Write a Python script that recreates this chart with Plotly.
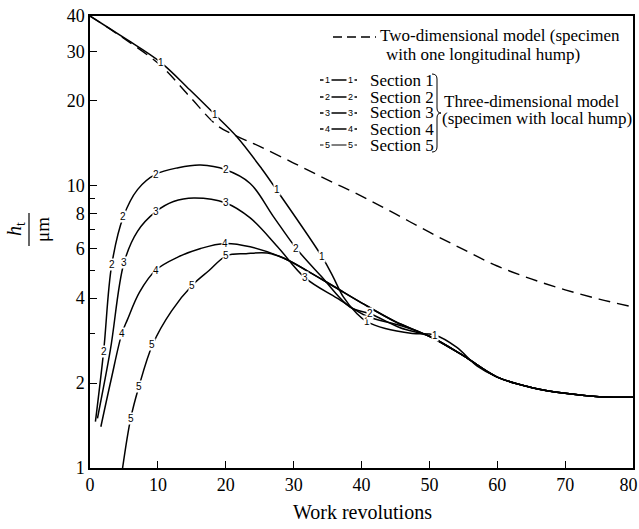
import numpy as np
import plotly.graph_objects as go

# Work revolutions (x) and h_t in micrometres (y) for each curve
x_2d = [0, 5, 10.5, 14.7, 18.7, 21.6, 25, 30, 35, 40, 45, 50, 55, 60, 65, 70, 75, 80]
y_2d = [40, 33.3, 26.6, 20.7, 16.4, 15.0, 13.8, 12.05, 10.5, 9.2, 7.95, 6.85, 5.95, 5.2, 4.68, 4.28, 3.97, 3.72]

x_s1 = [0, 5, 10.5, 14.7, 18.4, 21.6, 25.3, 27.5, 34.2, 35.8, 37.3, 39.3, 40.8, 43.5, 47.5, 50.8, 54, 57, 60, 65, 70, 75, 80]
y_s1 = [40, 33.5, 27.3, 21.9, 17.9, 14.96, 11.5, 9.67, 5.6, 4.77, 4.05, 3.53, 3.3, 3.12, 3.0, 2.96, 2.68, 2.3, 2.1, 1.93, 1.84, 1.79, 1.78]
lbl_s1 = [2, 4, 7, 8, 12, 15]

x_s2 = [0.8, 2.0, 3.2, 4.9, 7, 9.7, 13, 16.3, 20.0, 23.6, 27.0, 30.4, 34, 38.3, 41.3, 45.7, 50, 55, 60, 65, 70, 75, 80]
y_s2 = [1.46, 2.58, 5.25, 7.76, 9.7, 11.0, 11.6, 11.85, 11.4, 10.2, 7.8, 6.0, 4.8, 3.72, 3.52, 3.14, 2.93, 2.5, 2.1, 1.93, 1.84, 1.79, 1.78]
lbl_s2 = [1, 2, 3, 5, 8, 11, 14]

x_s3 = [1.1, 3.0, 5.0, 7, 9.7, 12.3, 15.3, 20.0, 23.6, 27.6, 31.7, 36.4, 40.8, 45.7, 50, 55, 60, 65, 70, 75, 80]
y_s3 = [1.5, 2.62, 5.33, 6.9, 8.1, 8.8, 9.06, 8.7, 7.7, 6.1, 4.72, 4.0, 3.45, 3.2, 2.93, 2.5, 2.1, 1.93, 1.84, 1.79, 1.78]
lbl_s3 = [2, 4, 7, 10]

x_s4 = [1.6, 3.1, 4.7, 5.5, 7.3, 9.7, 13, 16.3, 19.9, 23.6, 28.5, 32, 36, 40, 45, 50, 55, 60, 65, 70, 75, 80]
y_s4 = [1.4, 2.05, 3.0, 3.35, 4.2, 5.03, 5.6, 6.0, 6.25, 6.08, 5.55, 5.0, 4.39, 3.85, 3.3, 2.93, 2.5, 2.1, 1.93, 1.84, 1.79, 1.78]
lbl_s4 = [2, 5, 8]

x_s5 = [4.8, 6.0, 7.2, 9.2, 12, 15.1, 17.5, 20.1, 23, 26.1, 28.5, 32, 36, 40, 45, 50, 55, 60, 65, 70, 75, 80]
y_s5 = [1.0, 1.5, 1.94, 2.73, 3.6, 4.45, 5.0, 5.65, 5.75, 5.78, 5.55, 5.0, 4.39, 3.85, 3.3, 2.93, 2.5, 2.1, 1.93, 1.84, 1.79, 1.78]
lbl_s5 = [1, 2, 3, 5, 7]

x_ticks = [0, 10, 20, 30, 40, 50, 60, 70, 80]
# the last label is padded so it stays inside the page edge
x_ticktext = ["0", "10", "20", "30", "40", "50", "60", "70", "80&nbsp;&nbsp;"]
y_ticks = [1, 2, 4, 6, 8, 10, 20, 30, 40]
y_minor = [3, 5, 7, 9]

sections = [
    ("1", x_s1, y_s1, lbl_s1),
    ("2", x_s2, y_s2, lbl_s2),
    ("3", x_s3, y_s3, lbl_s3),
    ("4", x_s4, y_s4, lbl_s4),
    ("5", x_s5, y_s5, lbl_s5),
]

W, H = 639, 529
L, R, T, B = 90, 6, 16, 61
PW, PH = W - L - R, H - T - B


def px(p):
    return (p - L) / PW


def py(p):
    return (H - B - p) / PH


SERIF = "Liberation Serif, Times New Roman, DejaVu Serif, serif"
SANS = "Liberation Sans, DejaVu Sans, sans-serif"


def note(x, y, text, size=17, family=SERIF, xanchor="center", **kw):
    return dict(x=x, y=y, xref="paper", yref="paper", text=text, showarrow=False,
                xanchor=xanchor, yanchor="middle",
                font=dict(family=family, size=size, color="black"), **kw)


fig = go.Figure()

fig.add_trace(go.Scatter(x=x_2d, y=y_2d, mode="lines", line_shape="spline",
                         line=dict(color="black", width=1.4, dash="12px,7px"),
                         showlegend=False, hoverinfo="skip"))

annotations = []
for name, xs, ys, idx in sections:
    fig.add_trace(go.Scatter(x=xs, y=ys, mode="lines", line_shape="spline",
                             line=dict(color="black", width=1.5),
                             showlegend=False, hoverinfo="skip"))
    for i in idx:
        annotations.append(dict(x=xs[i], y=np.log10(ys[i]), xref="x", yref="y",
                                text=name, showarrow=False, bgcolor="white",
                                borderpad=0, xanchor="center", yanchor="middle",
                                font=dict(family=SANS, size=10, color="black")))

# Legend block drawn by hand
shapes = [dict(type="line", xref="paper", yref="paper",
               x0=px(333), x1=px(376), y0=py(37), y1=py(37),
               line=dict(color="black", width=1.4, dash="9px,5px"))]
annotations.append(note(px(378), py(35), "Two-dimensional model (specimen", xanchor="left"))
annotations.append(note(px(384), py(54), "with one longitudinal hump)", xanchor="left"))

rows = [80, 97, 113, 129, 145]
for (name, *_), ry in zip(sections, rows):
    shapes.append(dict(type="line", xref="paper", yref="paper",
                       x0=px(320), x1=px(357), y0=py(ry), y1=py(ry),
                       line=dict(color="black", width=1.6 if name != "5" else 1.0)))
    for cx in (327, 350):
        annotations.append(note(px(cx), py(ry), name, size=9, family=SANS,
                                bgcolor="white", borderpad=1))
    annotations.append(note(px(368), py(ry), "Section " + name, xanchor="left"))

# Curly brace grouping the sections
bx = [px(v) for v in (432, 436, 437, 441)]
by = [py(v) for v in (74, 79, 108, 113, 118, 147, 152)]
brace = (f"M{bx[0]},{by[0]} Q{bx[2]},{by[0]} {bx[2]},{by[1]} L{bx[2]},{by[2]} "
         f"Q{bx[2]},{by[3]} {bx[3]},{by[3]} Q{bx[2]},{by[3]} {bx[2]},{by[4]} "
         f"L{bx[2]},{by[5]} Q{bx[2]},{by[6]} {bx[0]},{by[6]}")
shapes.append(dict(type="path", xref="paper", yref="paper", path=brace,
                   line=dict(color="black", width=1.0)))
annotations.append(note(px(442), py(101), "Three-dimensional model", xanchor="left"))
annotations.append(note(px(440), py(118), "(specimen with local hump)", xanchor="left"))

# Axis titles
annotations.append(note(px(362), py(512), "Work revolutions", size=20))
annotations.append(note(px(15), py(229), "<i>h</i><sub>t</sub>", size=20, textangle=-90))
annotations.append(note(px(43), py(230), "μm", size=19, textangle=-90))
shapes.append(dict(type="line", xref="paper", yref="paper",
                   x0=px(29), x1=px(29), y0=py(213), y1=py(246),
                   line=dict(color="black", width=1.2)))

axis_common = dict(ticks="inside", ticklen=7, tickwidth=1.2, tickcolor="black",
                   showline=True, linecolor="black", linewidth=1.5, mirror=True,
                   showgrid=False, zeroline=False, ticklabeloverflow="allow",
                   automargin=False,
                   tickfont=dict(family=SERIF, size=18, color="black"))

fig.update_layout(
    width=W, height=H,
    margin=dict(l=L, r=R, t=T, b=B, autoexpand=False),
    paper_bgcolor="white", plot_bgcolor="white",
    shapes=shapes, annotations=annotations, showlegend=False,
    xaxis=dict(range=[0, 80], tickvals=x_ticks, ticktext=x_ticktext, **axis_common),
    yaxis=dict(type="log", range=[0, np.log10(40)], tickvals=y_ticks,
               ticktext=[str(v) for v in y_ticks],
               minor=dict(tickvals=y_minor, ticks="inside", ticklen=5,
                          tickcolor="black", showgrid=False),
               **axis_common),
)

fig.write_html("out.html")
